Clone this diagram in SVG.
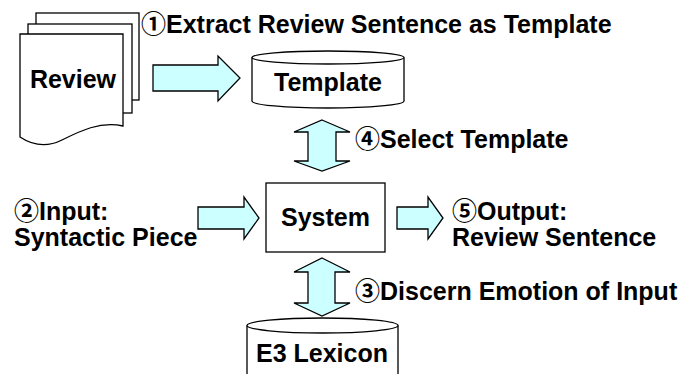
<svg xmlns="http://www.w3.org/2000/svg" width="682" height="374" viewBox="0 0 682 374">
<style>
.t{font-family:"Liberation Sans","Noto Sans CJK JP",Arial,sans-serif;font-weight:bold;font-size:25px;fill:#000}
.c{text-anchor:middle}
.ar{fill:#ccffff;stroke:#000;stroke-width:1.3;stroke-linejoin:miter}
.sh{fill:#fff;stroke:#000;stroke-width:1.3}
</style>
<rect width="682" height="374" fill="#fff"/>
<g id="review">
<rect class="sh" x="36" y="13" width="103" height="87"/>
<rect class="sh" x="28" y="24" width="104" height="89"/>
<path class="sh" d="M20,34 H123 V126 C100,121 80,131 62,140 C46,148 32,145 20,137 Z"/>
<text class="t c" x="73" y="88">Review</text>
</g>
<g id="template">
<path class="sh" d="M252,57.5 V101 A76,7 0 0 0 404,101 V57.5"/>
<ellipse class="sh" cx="328" cy="57.5" rx="76" ry="6.5"/>
<text class="t c" x="328" y="91">Template</text>
</g>
<g id="system">
<rect class="sh" x="266" y="183" width="119" height="69"/>
<text class="t c" x="325.5" y="226">System</text>
</g>
<g id="lexicon">
<path class="sh" d="M247,325.5 V380 H398 V325.5"/>
<ellipse class="sh" cx="322.5" cy="325.5" rx="75.5" ry="7.5"/>
<text class="t c" x="322" y="362">E3 Lexicon</text>
</g>
<g id="connectors">
<polygon class="ar" points="153,65 218,65 218,56 240,78 218,101 218,91 153,91"/>
<polygon class="ar" points="322,120 350,132 336,132 336,161 350,161 322,171 294,161 308,161 308,132 294,132"/>
<polygon class="ar" points="322,258 350,272 335,272 335,303 350,303 322,316 294,303 308,303 308,272 294,272"/>
<polygon class="ar" points="198,207 244,207 244,197 259,218 244,239 244,229 198,229"/>
<polygon class="ar" points="397,207 428,207 428,197 443,218 428,239 428,229 397,229"/>
</g>
<g id="labels">
<text class="t" x="141" y="33">①Extract Review Sentence as Template</text>
<text class="t" x="355" y="148">④Select Template</text>
<text class="t" x="14" y="220">②Input:</text>
<text class="t" x="14" y="246">Syntactic Piece</text>
<text class="t" x="452" y="220">⑤Output:</text>
<text class="t" x="452" y="246">Review Sentence</text>
<text class="t" x="355" y="300">③Discern Emotion of Input</text>
</g>
</svg>
